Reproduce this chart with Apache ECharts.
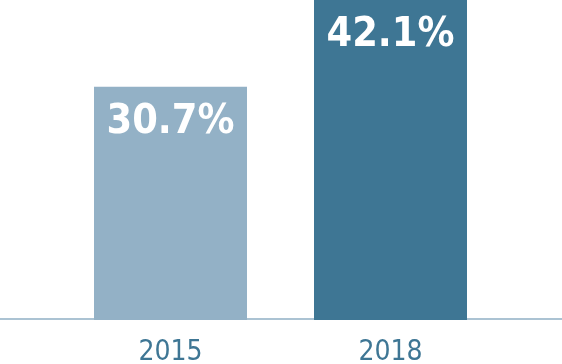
<!DOCTYPE html>
<html><head><meta charset="utf-8">
<script src="https://cdn.jsdelivr.net/npm/echarts@6/dist/echarts.min.js"></script>
<style>html,body{margin:0;padding:0;background:#fff}#c{width:562px;height:364px}</style>
</head><body><div id="c"></div>
<script>
const categories = ['2015', '2018'];
const values = [30.7, 42.1];
const barColors = ['#93B1C6', '#3E7694'];

const chart = echarts.init(document.getElementById('c'), null, {renderer: 'canvas'});
chart.setOption({
  animation: false,
  grid: [
    {left: 60.5, right: 61.5, top: 0, bottom: 44, outerBoundsMode: 'none', containLabel: false},
    {left: 0, right: 0, top: 0, bottom: 45.5, outerBoundsMode: 'none', containLabel: false}
  ],
  xAxis: [
    {type: 'category', data: categories, gridIndex: 0,
     axisLine: {show: false}, axisTick: {show: false},
     axisLabel: {color: '#3E7694', fontSize: 28, fontFamily: 'DejaVu Sans Condensed', margin: 19}},
    {type: 'value', gridIndex: 1, min: 0, max: 1, position: 'bottom',
     axisLine: {show: true, lineStyle: {color: '#8FAFC4', width: 1.6}},
     axisTick: {show: false}, axisLabel: {show: false}, splitLine: {show: false}}
  ],
  yAxis: [
    {type: 'value', gridIndex: 0, min: 0, max: 42.1, show: false},
    {type: 'value', gridIndex: 1, min: 0, max: 1, show: false}
  ],
  series: [{
    type: 'bar', xAxisIndex: 0, yAxisIndex: 0,
    barWidth: 153,
    data: values.map((v, i) => ({value: v, itemStyle: {color: barColors[i]}})),
    label: {show: true, position: 'insideTop', distance: 15,
      formatter: p => p.value.toFixed(1) + '%',
      color: '#fff', fontSize: 41, fontWeight: 'bold', fontFamily: 'DejaVu Sans Condensed'},
    z: 3
  }]
});
</script></body></html>
